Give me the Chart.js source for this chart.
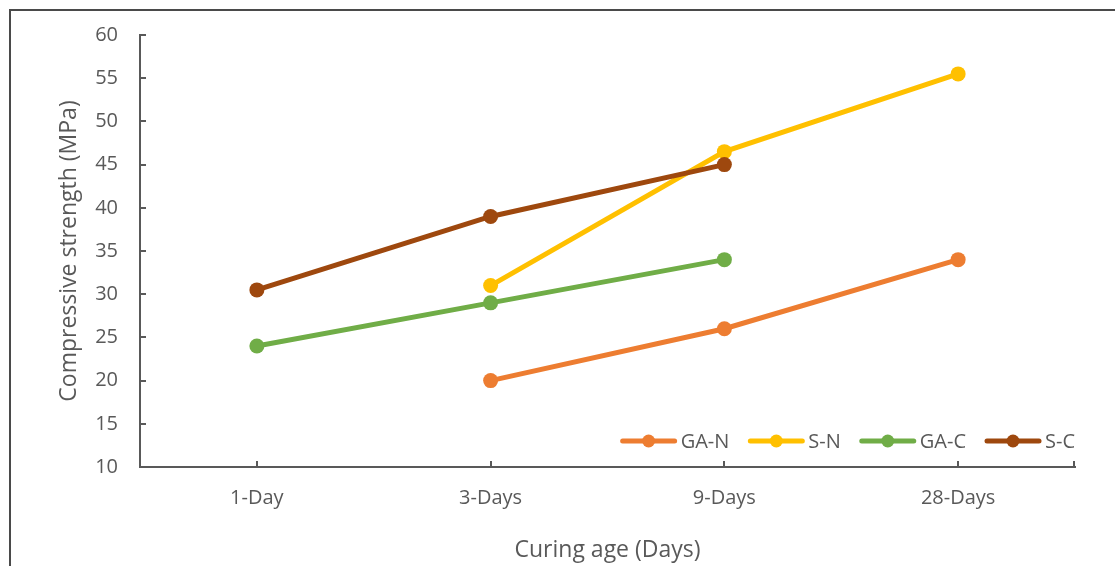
<!DOCTYPE html>
<html>
<head>
<meta charset="utf-8">
<script src="https://cdn.jsdelivr.net/npm/chart.js@4"></script>
<style>
  html, body { margin: 0; padding: 0; background: #fff; overflow: hidden; }
  #wrap { position: relative; width: 1115px; height: 566px; }
  #frame { position: absolute; left: 9px; top: 9px; width: 1200px; height: 700px;
           border: 2px solid #4a4a4a; box-sizing: border-box; pointer-events: none; }
  canvas { position: absolute; left: 0; top: 0; }
</style>
</head>
<body>
<div id="wrap">
  <div id="frame"></div>
  <canvas id="c" width="1115" height="566"></canvas>
</div>
<script>
const categories = ['1-Day', '3-Days', '9-Days', '28-Days'];
const seriesNames = ['GA-N', 'S-N', 'GA-C', 'S-C'];
const gaN = [null, 20, 26, 34];
const sN  = [null, 31, 46.5, 55.5];
const gaC = [24, 29, 34, null];
const sC  = [30.5, 39, 45, null];
const colors = ['#ED7D31', '#FFC000', '#70AD47', '#9E480E'];
const yMin = 10, yMax = 60, yStep = 5;

const FONT = "'Open Sans', sans-serif";
const TEXT = '#595959';
const AXIS = '#595959';

const values = [gaN, sN, gaC, sC];
const datasets = values.map((v, i) => ({
  label: seriesNames[i],
  data: v,
  borderColor: colors[i],
  backgroundColor: colors[i],
  pointBackgroundColor: colors[i],
  pointBorderColor: colors[i],
  borderWidth: 5,
  pointRadius: 7.5,
  pointBorderWidth: 0,
  pointHoverRadius: 7.5,
  tension: 0,
  order: values.length - i
}));

// Small inward tick marks on both axes
const innerTicks = {
  id: 'innerTicks',
  afterDatasetsDraw(chart) {
    const { ctx, chartArea, scales } = chart;
    ctx.save();
    ctx.strokeStyle = AXIS;
    ctx.lineWidth = 2;
    scales.y.ticks.forEach(t => {
      const y = Math.round(scales.y.getPixelForValue(t.value));
      ctx.beginPath();
      ctx.moveTo(chartArea.left, y);
      ctx.lineTo(chartArea.left + 6, y);
      ctx.stroke();
    });
    const xs = categories.map((_, i) => scales.x.getPixelForValue(i));
    xs.push(chartArea.right - 1);
    xs.forEach(x => {
      x = Math.round(x);
      ctx.beginPath();
      ctx.moveTo(x, chartArea.bottom);
      ctx.lineTo(x, chartArea.bottom - 6);
      ctx.stroke();
    });
    ctx.restore();
  }
};

// Legend drawn inside the plot, bottom-right, line + marker swatches
const insideLegend = {
  id: 'insideLegend',
  afterDraw(chart) {
    const { ctx, chartArea } = chart;
    ctx.save();
    ctx.font = '20px ' + FONT;
    ctx.textBaseline = 'middle';
    const swatch = 56, gapText = 4, gapItem = 19;
    const items = chart.data.datasets.map(d => ({ label: d.label, color: d.borderColor, w: ctx.measureText(d.label).width }));
    let total = items.reduce((s, it) => s + swatch + gapText + it.w, 0) + gapItem * (items.length - 1);
    let x = chartArea.right - total;
    const y = chartArea.bottom - 26;
    items.forEach(it => {
      ctx.strokeStyle = it.color;
      ctx.lineWidth = 5;
      ctx.lineCap = 'round';
      ctx.beginPath();
      ctx.moveTo(x + 2, y);
      ctx.lineTo(x + swatch - 2, y);
      ctx.stroke();
      ctx.fillStyle = it.color;
      ctx.beginPath();
      ctx.arc(x + swatch / 2, y, 6.5, 0, Math.PI * 2);
      ctx.fill();
      ctx.fillStyle = TEXT;
      ctx.fillText(it.label, x + swatch + gapText, y + 1);
      x += swatch + gapText + it.w + gapItem;
    });
    ctx.restore();
  }
};

new Chart(document.getElementById('c'), {
  type: 'line',
  data: { labels: categories, datasets },
  options: {
    responsive: false,
    animation: false,
    devicePixelRatio: 1,
    layout: { padding: { top: 35, right: 40, left: 0, bottom: 0 } },
    plugins: { legend: { display: false }, tooltip: { enabled: false } },
    scales: {
      x: {
        offset: true,
        grid: { display: true, drawOnChartArea: false, drawTicks: false },
        border: { display: true, color: AXIS, width: 2 },
        ticks: { color: TEXT, font: { family: FONT, size: 20 }, padding: 19, maxRotation: 0 },
        title: { display: true, text: 'Curing age (Days)', color: TEXT,
                 font: { family: FONT, size: 23 }, padding: { top: 0, bottom: 2 } },
        afterFit(scale) { scale.height = 99; }
      },
      y: {
        min: yMin, max: yMax,
        grid: { display: true, drawOnChartArea: false, drawTicks: false },
        border: { display: true, color: AXIS, width: 2 },
        ticks: { stepSize: yStep, color: TEXT, font: { family: FONT, size: 20 }, padding: 22 },
        title: { display: true, text: 'Compressive strength (MPa)', color: TEXT,
                 font: { family: FONT, size: 23 }, padding: { top: 56, bottom: 0 } },
        afterFit(scale) { scale.width = 140; }
      }
    }
  },
  plugins: [innerTicks, insideLegend]
});
</script>
</body>
</html>
